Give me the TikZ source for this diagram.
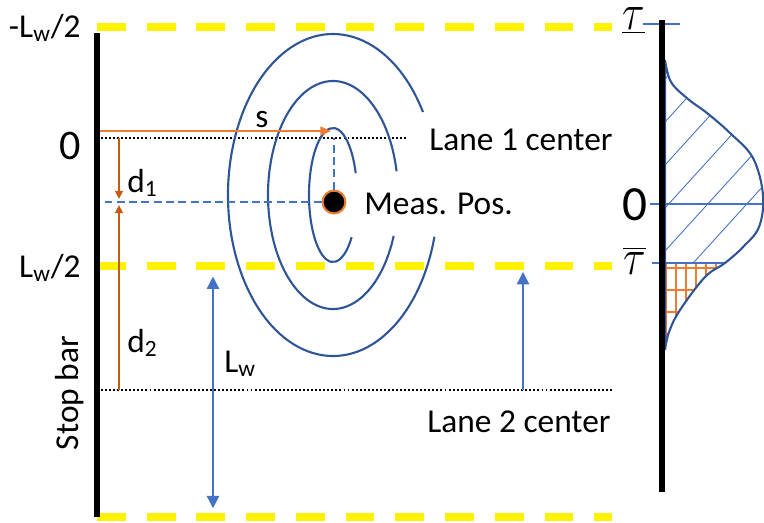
\documentclass[tikz,border=0pt]{standalone}
\usepackage{fontspec}
\setmainfont{Carlito}
\usetikzlibrary{arrows.meta,positioning,calc}
\definecolor{ctblue}{HTML}{2F5597}
\definecolor{lnblue}{HTML}{4472C4}
\definecolor{dorange}{HTML}{C55A11}
\definecolor{lorange}{HTML}{ED7D31}

\begin{document}
\begin{tikzpicture}[x=0.02cm, y=-0.02cm,
  lbl/.style={font=\fontsize{19}{23}\selectfont, inner sep=0pt},
  zero/.style={font=\fontsize{24}{28}\selectfont, inner sep=0pt},
  taulbl/.style={font=\fontsize{20}{24}\selectfont, inner sep=0pt},
  lane/.style={yellow, line width=4pt, dash pattern=on 16.4pt off 11.9pt},
  bar/.style={line width=3.6pt},
  ctr/.style={line width=1.1pt, dash pattern=on 1.1pt off 1.2pt},
  contour/.style={ctblue, line width=1.2pt},
  guide/.style={lnblue, line width=0.6pt, dash pattern=on 4.5pt off 2.5pt},
  tick/.style={lnblue, line width=0.7pt},
  sarrow/.style={lorange, line width=1pt, -{Triangle[length=6pt,width=5pt]}},
  darrow/.style={dorange, line width=0.8pt, -{Triangle[length=4.5pt,width=4.5pt]}, shorten >=1.8pt},
  barrow/.style={lnblue, line width=0.8pt, -{Triangle[length=7pt,width=7pt]}}]
  \useasboundingbox (0,0) rectangle (764,522);

  \foreach \y in {27,266,517} \draw[lane] (97,\y) -- (612,\y);
  \coordinate (sbtop) at (97,33);
  \coordinate (sbbot) at (97,517);
  \coordinate (l1a) at (97,138);
  \coordinate (l1b) at (408,138);
  \coordinate (l2a) at (97,390);
  \coordinate (l2b) at (612,390);
  \coordinate (c0) at (333,195);

  \draw[ctr] (l1a) -- (l1b);
  \draw[ctr] (l2a) -- (l2b);

  \draw[contour] (c0) ++(-19:24 and 67) arc[start angle=-19, end angle=-321, x radius=24, y radius=67];
  \draw[contour] (c0) ++(-12:65 and 114) arc[start angle=-12, end angle=-339, x radius=65, y radius=114];
  \draw[contour] (c0) ++(-31:105 and 161) arc[start angle=-31, end angle=-345, x radius=105, y radius=161];

  \node[circle, fill=black, draw=lorange, line width=1.2pt, minimum size=13pt, inner sep=0pt] (meas) at (334,202) {};
  \draw[guide] (meas.north) -- (meas.north |- l1a);
  \draw[guide] (meas.west) -- (meas.west -| sbtop);

  \coordinate (s0) at (97,131);
  \coordinate (s1) at (331,131);
  \draw[sarrow] (s0) -- (s1);

  \coordinate (d1top) at (119,138);
  \coordinate (dmid) at (119,202);
  \coordinate (d2bot) at (119,390);
  \draw[darrow] (d1top) -- (dmid);
  \draw[darrow] (d2bot) -- (dmid);

  \coordinate (lwtop) at (213,266);
  \coordinate (lwbot) at (213,517);
  \draw[barrow, {Triangle[length=7pt,width=7pt]}-{Triangle[length=7pt,width=7pt]}, shorten <=6pt, shorten >=5pt] (lwtop) -- (lwbot);
  \coordinate (l2up) at (523,390);
  \draw[barrow, shorten >=3.4pt] (l2up) -- (l2up |- lwtop);

  \draw[bar] (sbtop) -- (sbbot);

  \path[save path=\bellcurve] plot[smooth, tension=0.6] coordinates {(665,60) (671,82) (688,99) (707,113)
    (730,133) (753,158) (763,195) (759,227) (743,247) (725,263) (705,277) (680,310) (669,332) (665,350)} -- cycle;
  \begin{scope}
    \clip (640,0) rectangle (770,263);
    \clip[use path=\bellcurve];
    \foreach \k in {0,...,6} \draw[lnblue, line width=0.5pt] (665,79+43*\k) -- ++(120,-132);
  \end{scope}
  \begin{scope}
    \clip (640,263) rectangle (770,360);
    \clip[use path=\bellcurve];
    \foreach \x in {666,676,...,726} \draw[lorange, line width=0.6pt] (\x,263) -- (\x,360);
    \foreach \y in {268,290,312,334} \draw[lorange, line width=0.6pt] (660,\y) -- (740,\y);
  \end{scope}
  \coordinate (pbtop) at (662,20);
  \coordinate (pbbot) at (662,492);
  \draw[tick] (643,24) coordinate (tlo) -- (680,24);
  \draw[tick] (650,204) coordinate (tmid) -- (764,204);
  \draw[tick] (652,263) coordinate (thi) -- (725,263);
  \draw[contour, use path=\bellcurve];
  \draw[bar] (pbtop) -- (pbbot);

  \node[lbl, anchor=base east] (lwneg) at (81,37) {-L\textsubscript{w}/2};
  \node[zero, anchor=base east] (zl) at (81,159) {0};
  \node[lbl, anchor=base east] (lwpos) at (81,277) {L\textsubscript{w}/2};
  \node[lbl, anchor=base, rotate=90] (stop) at (78,393) {Stop bar};
  \node[lbl, anchor=base] (slbl) at (262,127) {s};
  \node[lbl, anchor=base west] (d1lbl) at (127,192) {d\textsubscript{1}};
  \node[lbl, anchor=base west] (d2lbl) at (127,352) {d\textsubscript{2}};
  \node[lbl, anchor=base west] (lwlbl) at (224,372) {L\textsubscript{w}};
  \node[lbl, anchor=base west] (lane1) at (429,150) {Lane 1 center};
  \node[lbl, anchor=base west] (lane2) at (427,432) {Lane 2 center};
  \node[lbl, right=10pt of meas, yshift=-1pt] (measlbl) {Meas. Pos.};
  \node[taulbl, anchor=base east] (taulo) at (645,29) {\scalebox{1.15}[1.4]{$\underline{\tau}$}};
  \node[taulbl, anchor=base east] (tauhi) at (646,274) {\scalebox{1.15}[1.4]{$\overline{\tau}$}};
  \node[zero, anchor=base east, font=\fontsize{28}{32}\selectfont] (zr) at (648,220) {0};
\end{tikzpicture}
\end{document}
